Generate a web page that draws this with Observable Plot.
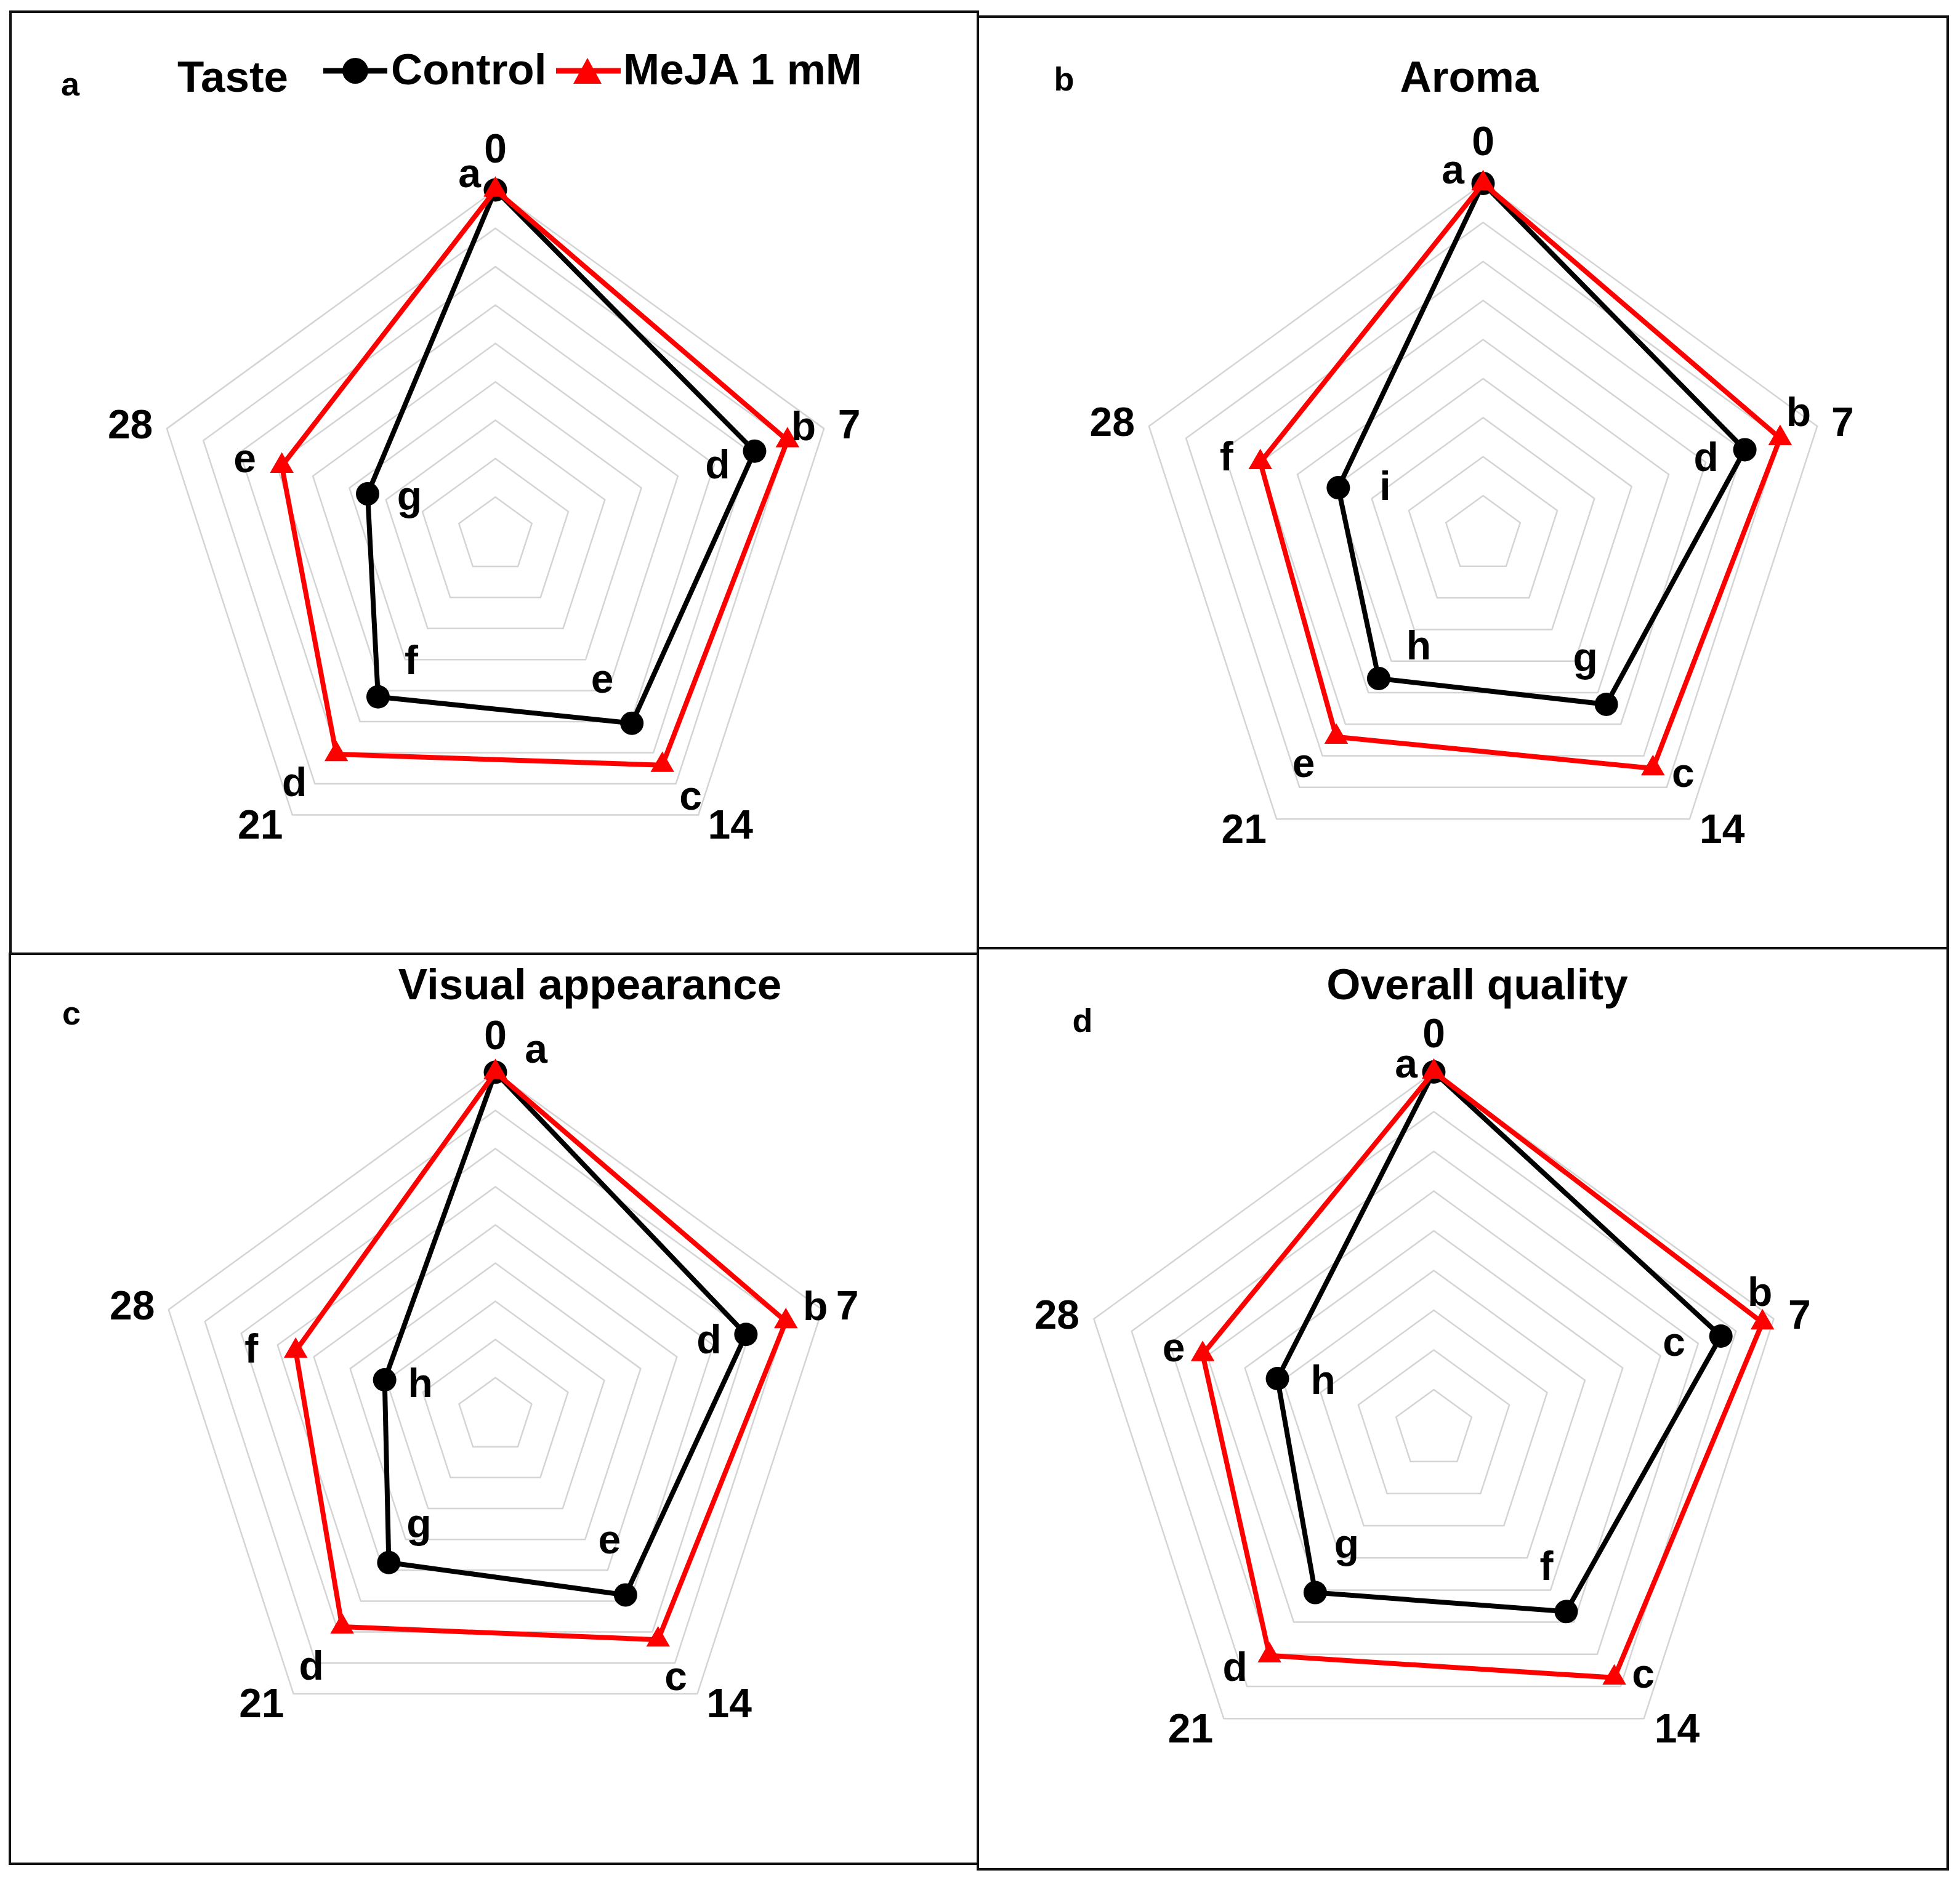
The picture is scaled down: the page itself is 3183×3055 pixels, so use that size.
<!DOCTYPE html>
<html><head><meta charset="utf-8">
<script src="https://cdn.jsdelivr.net/npm/d3@7"></script>
<script src="https://cdn.jsdelivr.net/npm/@observablehq/plot@0.6"></script>
<style>
body{margin:0;background:#fff;}
#wrap{position:relative;width:3183px;height:3055px;background:#fff;overflow:hidden;}
#wrap > svg{position:absolute;}
</style></head><body><div id="wrap"></div>
<script>
// ---- data (9-point hedonic scores) ----
const days = ["0", "7", "14", "21", "28"];
const seriesNames = ["Control", "MeJA 1 mM"];

const tasteControl = [9, 7.1, 6.05, 5.2, 3.5];
const tasteMeja    = [9, 8.0, 7.4, 7.05, 5.85];
const tasteControlLetters = ["a", "d", "e", "f", "g"];
const tasteMejaLetters    = [null, "b", "c", "d", "e"];

const aromaControl = [9, 7.05, 5.37, 4.55, 3.9];
const aromaMeja    = [9, 8.0, 7.4, 6.4, 6.0];
const aromaControlLetters = ["a", "d", "g", "h", "i"];
const aromaMejaLetters    = [null, "b", "c", "e", "f"];

const visualControl = [9, 6.9, 5.8, 4.75, 3.05];
const visualMeja    = [9, 8.0, 7.25, 6.83, 5.5];
const visualControlLetters = ["a", "d", "e", "g", "h"];
const visualMejaLetters    = [null, "b", "c", "d", "f"];

const overallControl = [9, 7.6, 5.67, 5.08, 4.14];
const overallMeja    = [9, 8.7, 7.73, 7.04, 6.12];
const overallControlLetters = ["a", "c", "f", "g", "h"];
const overallMejaLetters    = [null, "b", "c", "d", "e"];

const ringValues = [1, 2, 3, 4, 5, 6, 7, 8, 9];

// ---- layout ----
const FONT = "'Liberation Sans', Arial, Helvetica, sans-serif";
const FS = 66;
const panels = [
  {tag: "a", title: "Taste", control: tasteControl, meja: tasteMeja,
   cL: tasteControlLetters, mL: tasteMejaLetters,
   box: {l: 17, t: 19, r: 1588, b: 1549}, cx: 804, cy: 869, k: 62.34,
   cOff: [[-42,-22],[-60,21],[-48,-67],[54,-61],[68,15]],
   mOff: [null,[26,-24],[46,55],[-68,44],[-60,-7]],
   titleX: 378, titleY: 149, tagX: 114, tagY: 155, topR: 10.05},
  {tag: "b", title: "Aroma", control: aromaControl, meja: aromaMeja,
   cL: aromaControlLetters, mL: aromaMejaLetters,
   box: {l: 1588, t: 27, r: 3163, b: 1540}, cx: 2408, cy: 868, k: 63.4,
   cOff: [[-49,-17],[-63,11],[-34,-65],[65,-55],[76,-4]],
   mOff: [null,[30,-44],[49,13],[-53,48],[-55,-11]],
   titleX: 2386, titleY: 149, tagX: 1728, tagY: 147, topR: 10.05},
  {tag: "c", title: "Visual appearance", control: visualControl, meja: visualMeja,
   cL: visualControlLetters, mL: visualMejaLetters,
   box: {l: 16, t: 1549, r: 1588, b: 3027}, cx: 804, cy: 2299, k: 62.0,
   cOff: [[66,-33],[-60,7],[-26,-85],[49,-51],[58,4]],
   mOff: [null,[48,-26],[29,65],[-50,62],[-72,-5]],
   titleX: 958, titleY: 1623, tagX: 116, tagY: 1664, topR: 9.95},
  {tag: "d", title: "Overall quality", control: overallControl, meja: overallMeja,
   cL: overallControlLetters, mL: overallMejaLetters,
   box: {l: 1588, t: 1540, r: 3163, b: 3036}, cx: 2328, cy: 2321, k: 64.5,
   cOff: [[-45,-8],[-76,15],[-32,-75],[51,-67],[74,1]],
   mOff: [null,[-4,-51],[47,-1],[-56,17],[-47,-6]],
   titleX: 2399, titleY: 1623, tagX: 1758, tagY: 1676, topR: 9.95}
];
// category label placement (radius in scale units, angle in degrees)
const catSpec = [
  {r: null, a: 0, anchor: "middle"},
  {r: 9.37, a: 72.2, anchor: "start"},
  {r: 9.73, a: 141, anchor: "middle"},
  {r: 9.73, a: 219, anchor: "middle"},
  {r: 9.37, a: 287.8, anchor: "end"}
];
// height (em) of a letter's visual centre above its baseline
const letterH = l => ("bdfhikl".includes(l) ? 0.36 : l === "g" ? 0.16 : 0.26);

function polar(v, i) {
  const a = i * 2 * Math.PI / 5;
  return {x: v * Math.sin(a), y: v * Math.cos(a)};
}
function polarDeg(r, deg) {
  const a = deg * Math.PI / 180;
  return {x: r * Math.sin(a), y: r * Math.cos(a)};
}

const wrap = document.getElementById("wrap");

for (const p of panels) {
  const W = p.box.r - p.box.l, H = p.box.b - p.box.t;
  const xd = [(p.box.l - p.cx) / p.k, (p.box.r - p.cx) / p.k];
  const yd = [(p.cy - p.box.b) / p.k, (p.cy - p.box.t) / p.k];

  const rings = ringValues.flatMap(v => d3.range(6).map(i => ({ring: v, ...polar(v, i % 5)})));
  const ctrl = p.control.map((v, i) => ({series: seriesNames[0], day: days[i], v, ...polar(v, i)}));
  const meja = p.meja.map((v, i) => ({series: seriesNames[1], day: days[i], v, ...polar(v, i)}));

  const cats = days.map((d, i) => ({text: d, anchor: catSpec[i].anchor,
    ...polarDeg(catSpec[i].r ?? p.topR, catSpec[i].a)}));

  const letterRows = [];
  const addLetters = (pts, letters, offs) => {
    pts.forEach((pt, i) => {
      const l = letters[i];
      if (!l) return;
      const [ox, oy] = offs[i];
      const corr = (0.32 - letterH(l)) * FS;
      letterRows.push({text: l, x: pt.x + ox / p.k, y: pt.y - (oy - corr) / p.k});
    });
  };
  addLetters(ctrl, p.cL, p.cOff);
  addLetters(meja, p.mL, p.mOff);

  const textStyle = {fontFamily: FONT, fontWeight: "bold", fontSize: FS, fill: "#000"};

  const svg = Plot.plot({
    width: W, height: H, margin: 0,
    x: {domain: xd, axis: null},
    y: {domain: yd, axis: null},
    style: {background: "transparent", overflow: "visible", maxWidth: "none"},
    marks: [
      Plot.line(rings, {x: "x", y: "y", z: "ring", stroke: "#d4d4d4", strokeWidth: 2.5}),
      Plot.line([...ctrl, ctrl[0]], {x: "x", y: "y", stroke: "#000", strokeWidth: 8, strokeLinejoin: "round"}),
      Plot.dot(ctrl, {x: "x", y: "y", r: 19, fill: "#000", symbol: "circle"}),
      Plot.line([...meja, meja[0]], {x: "x", y: "y", stroke: "#ff0000", strokeWidth: 8, strokeLinejoin: "round"}),
      Plot.dot(meja, {x: "x", y: "y", r: 14.3, fill: "#ff0000", symbol: "triangle"}),
      Plot.text(cats.filter(d => d.anchor === "middle"), {x: "x", y: "y", text: "text", textAnchor: "middle", ...textStyle}),
      Plot.text(cats.filter(d => d.anchor === "start"), {x: "x", y: "y", text: "text", textAnchor: "start", ...textStyle}),
      Plot.text(cats.filter(d => d.anchor === "end"), {x: "x", y: "y", text: "text", textAnchor: "end", ...textStyle}),
      Plot.text(letterRows, {x: "x", y: "y", text: "text", textAnchor: "middle", ...textStyle})
    ]
  });
  svg.style.left = p.box.l + "px";
  svg.style.top = p.box.t + "px";
  wrap.appendChild(svg);
}

// ---- overlay: panel frames, titles, panel tags, legend ----
const ov = d3.select(wrap).append("svg")
  .attr("width", 3183).attr("height", 3055)
  .style("left", "0px").style("top", "0px").style("pointer-events", "none");

for (const p of panels) {
  ov.append("rect")
    .attr("x", p.box.l).attr("y", p.box.t)
    .attr("width", p.box.r - p.box.l).attr("height", p.box.b - p.box.t)
    .attr("fill", "none").attr("stroke", "#111").attr("stroke-width", 4);
  ov.append("text").text(p.title)
    .attr("x", p.titleX).attr("y", p.titleY)
    .attr("text-anchor", "middle")
    .attr("font-family", FONT).attr("font-weight", "bold").attr("font-size", 71);
  ov.append("text").text(p.tag)
    .attr("x", p.tagX).attr("y", p.tagY)
    .attr("text-anchor", "middle")
    .attr("font-family", FONT).attr("font-weight", "bold").attr("font-size", 54);
}

// legend (panel a)
const lg = ov.append("g");
lg.append("line").attr("x1", 525).attr("x2", 629).attr("y1", 115).attr("y2", 115)
  .attr("stroke", "#000").attr("stroke-width", 9);
lg.append("circle").attr("cx", 577).attr("cy", 115).attr("r", 21).attr("fill", "#000");
lg.append("text").text(seriesNames[0]).attr("x", 635).attr("y", 137)
  .attr("font-family", FONT).attr("font-weight", "bold").attr("font-size", 71);
lg.append("line").attr("x1", 903).attr("x2", 1008).attr("y1", 115).attr("y2", 115)
  .attr("stroke", "#ff0000").attr("stroke-width", 9);
lg.append("path").attr("d", "M954,94L977,136L931,136Z").attr("fill", "#ff0000");
lg.append("text").text(seriesNames[1]).attr("x", 1012).attr("y", 137)
  .attr("font-family", FONT).attr("font-weight", "bold").attr("font-size", 71);
</script>
</body></html>
